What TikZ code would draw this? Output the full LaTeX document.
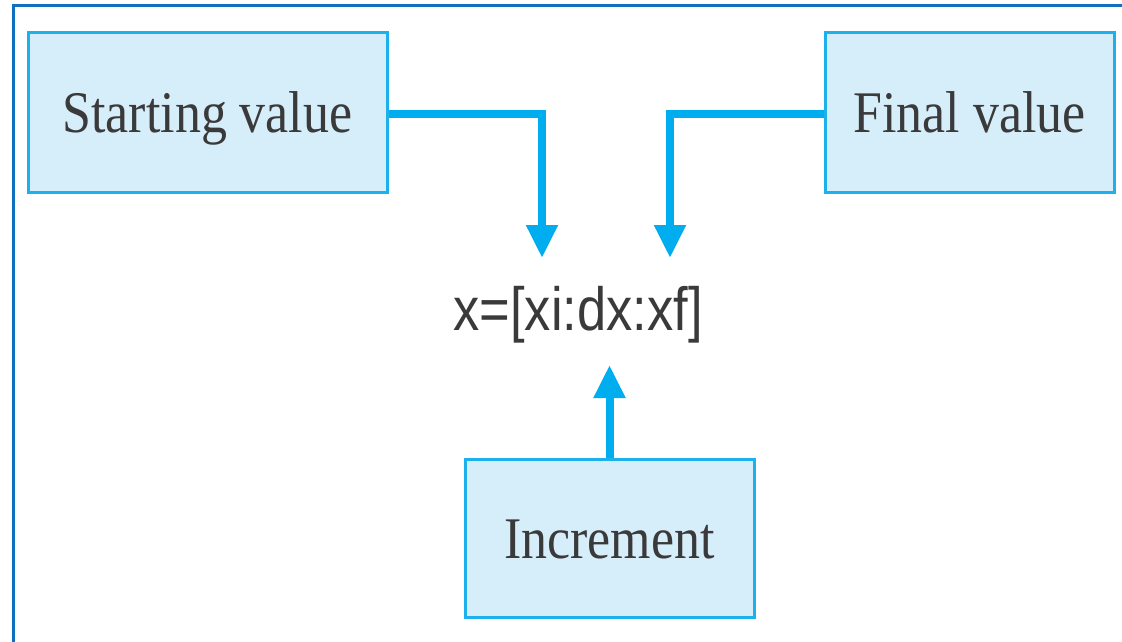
\documentclass[tikz,border=0pt]{standalone}
\usepackage{fontspec}
\usetikzlibrary{arrows.meta}
\newfontfamily\boxfont[FakeStretch=0.88]{Liberation Serif}
\newfontfamily\eqfont[FakeStretch=0.86]{Liberation Sans}
\definecolor{framecol}{HTML}{0F6FC1}
\definecolor{boxline}{HTML}{1CB1EC}
\definecolor{boxfill}{HTML}{D6EDFA}
\definecolor{arrcol}{HTML}{00AEEF}
\definecolor{txtcol}{HTML}{3A3A3A}
\tikzset{
  box/.style={draw=boxline, fill=boxfill, line width=3pt, inner sep=0pt,
    text=txtcol, font=\boxfont\fontsize{59}{60}\selectfont,
    text height=40pt, text depth=0pt},
  arr/.style={draw=arrcol, line width=8pt,
    -{Triangle[width=30pt,length=33pt]}},
}
\begin{document}
\begin{tikzpicture}[x=1pt,y=-1pt]
\useasboundingbox (0,0) rectangle (1122,642);
\fill[white] (0,0) rectangle (1122,642);
\draw[framecol, line width=3pt] (1122,6) -- (13.5,6) -- (13.5,642);
\node[box, minimum width=359pt, minimum height=159pt] (sv) at (207.5,112.5) {Starting value};
\node[box, minimum width=289pt, minimum height=159pt] (fv) at (969.5,112.5) {Final value};
\node[box, minimum width=289pt, minimum height=158pt] (inc) at (609.5,538) {Increment};
\node[text=txtcol, font=\eqfont\fontsize{61}{62}\selectfont, inner sep=0pt] (eq) at (578,315) {x=[xi:dx:xf]};
\coordinate (tipL) at (542,258);
\coordinate (tipR) at (670,258);
\coordinate (tipB) at (609.5,365);
\draw[arr] ([yshift=-1.5pt]sv.east) -| (tipL);
\draw[arr] ([yshift=-1.5pt]fv.west) -| (tipR);
\draw[arr] (inc.north) -- (tipB);
\end{tikzpicture}
\end{document}
